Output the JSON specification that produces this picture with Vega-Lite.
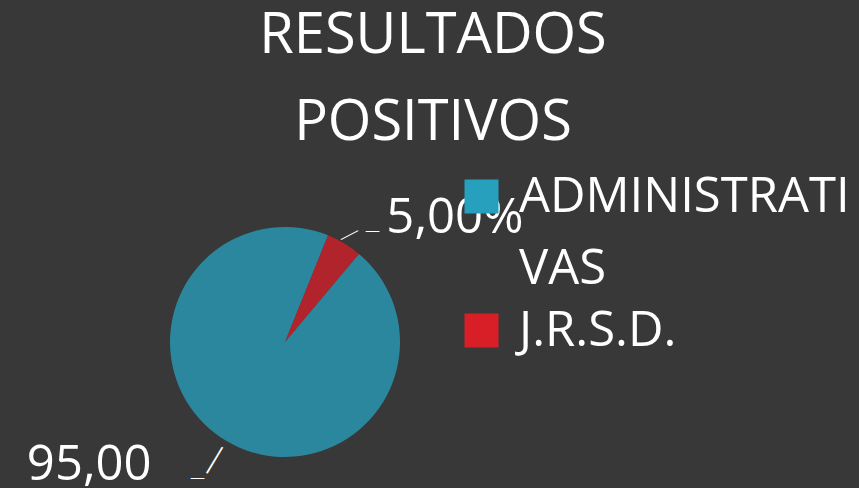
{
  "$schema": "https://vega.github.io/schema/vega-lite/v6.json",
  "width": 570,
  "height": 292,
  "autosize": {"type": "none"},
  "padding": {"left": 0, "top": 196, "right": 289, "bottom": 0},
  "background": "#383838",
  "config": {
    "view": {"stroke": null},
    "font": "Open Sans",
    "style": {"guide-label": {"lineHeight": 72}}
  },
  "title": {
    "text": ["RESULTADOS", "POSITIVOS"],
    "color": "white",
    "fontSize": 56,
    "font": "Open Sans",
    "fontWeight": "normal",
    "anchor": "middle",
    "frame": "group",
    "dx": 148,
    "dy": 80,
    "baseline": "alphabetic",
    "offset": 56,
    "lineHeight": 87
  },
  "data": {
    "values": [
      {"category": "ADMINISTRATIVAS", "value": 95, "label": "95,00"},
      {"category": "J.R.S.D.", "value": 5, "label": "5,00%"}
    ]
  },
  "encoding": {
    "theta": {"field": "value", "type": "quantitative", "stack": true, "scale": {"range": [0.698, 6.981]}},
    "order": {"field": "category", "type": "nominal", "sort": "ascending"}
  },
  "layer": [
    {
      "mark": {"type": "arc", "outerRadius": 115, "opacity": 0.76},
      "encoding": {
        "color": {
          "field": "category",
          "type": "nominal",
          "scale": {"domain": ["ADMINISTRATIVAS", "J.R.S.D."], "range": ["#27a0bd", "#d81e27"]},
          "legend": {
            "title": null,
            "orient": "none",
            "legendX": 457,
            "legendY": -24,
            "padding": 0,
            "symbolType": "square",
            "symbolSize": 1156,
            "symbolStrokeWidth": 0,
            "symbolOpacity": 1,
            "labelFontSize": 49,
            "labelColor": "white",
            "labelFont": "Open Sans",
            "labelOffset": 13,
            "labelLimit": 400,
            "rowPadding": 12,
            "labelExpr": "datum.label == 'ADMINISTRATIVAS' ? ['ADMINISTRATI', 'VAS'] : datum.label"
          }
        }
      }
    },
    {
      "mark": {
        "type": "text",
        "text": "—",
        "font": "Lato",
        "fontWeight": 300,
        "radius": {"expr": "datum.value < 50 ? 125 : 137.5"},
        "fontSize": {"expr": "datum.value < 50 ? 30 : 47"},
        "angle": {"expr": "datum.value < 50 ? -27.5 : -59"},
        "align": "center",
        "baseline": "middle",
        "color": "white"
      },
      "encoding": {"detail": {"field": "category"}}
    },
    {
      "mark": {
        "type": "text",
        "text": "—",
        "font": "Lato",
        "fontWeight": 300,
        "radius": {"expr": "datum.value < 50 ? 141 : 162"},
        "dx": {"expr": "datum.value < 50 ? 15 : -4"},
        "dy": {"expr": "datum.value < 50 ? 11 : -2"},
        "fontSize": 21,
        "align": "center",
        "baseline": "middle",
        "color": "white"
      },
      "encoding": {"detail": {"field": "category"}}
    },
    {
      "mark": {
        "type": "text",
        "radius": 160,
        "align": {"expr": "datum.value < 50 ? 'left' : 'right'"},
        "baseline": "alphabetic",
        "dx": {"expr": "datum.value < 50 ? 19 : -51"},
        "dy": {"expr": "datum.value < 50 ? 28 : 1"},
        "fontSize": 49,
        "color": "white"
      },
      "encoding": {
        "text": {"field": "label"},
        "detail": {"field": "category"}
      }
    }
  ]
}
